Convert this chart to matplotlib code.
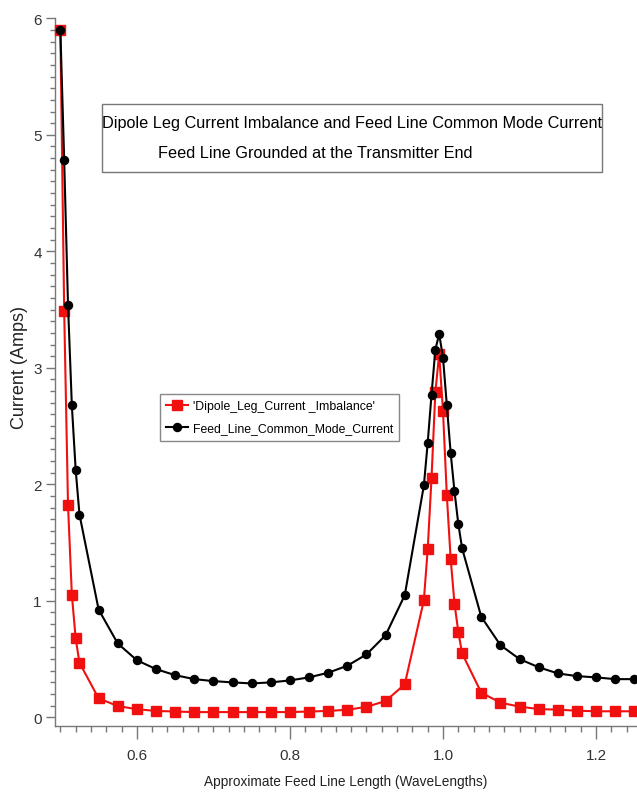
import numpy as np
import matplotlib
matplotlib.use('Agg')
import matplotlib.pyplot as plt
from matplotlib.patches import Rectangle
from matplotlib.ticker import MultipleLocator

# feed line length (wavelengths)
feedLength = [0.5, 0.505, 0.51, 0.515, 0.52, 0.525,
              0.55, 0.575, 0.6, 0.625, 0.65, 0.675, 0.7, 0.725, 0.75, 0.775, 0.8,
              0.825, 0.85, 0.875, 0.9, 0.925, 0.95,
              0.975, 0.98, 0.985, 0.99, 0.995, 1.0, 1.005, 1.01, 1.015, 1.02, 1.025,
              1.05, 1.075, 1.1, 1.125, 1.15, 1.175, 1.2, 1.225, 1.25]

# dipole leg current imbalance (amps)
legImbalance = [5.9, 3.49, 1.825, 1.054, 0.677, 0.468,
                0.163, 0.097, 0.07, 0.055, 0.05, 0.045, 0.045, 0.045, 0.045, 0.045, 0.045,
                0.05, 0.055, 0.065, 0.09, 0.14, 0.283,
                1.005, 1.442, 2.054, 2.79, 3.12, 2.628, 1.905, 1.362, 0.977, 0.734, 0.548,
                0.212, 0.126, 0.092, 0.071, 0.066, 0.057, 0.052, 0.052, 0.052]

# feed line common mode current (amps)
commonMode = [5.9, 4.78, 3.54, 2.68, 2.125, 1.74,
              0.925, 0.634, 0.49, 0.414, 0.362, 0.328, 0.311, 0.30, 0.291, 0.30, 0.317,
              0.343, 0.383, 0.443, 0.54, 0.705, 1.048,
              1.99, 2.356, 2.77, 3.156, 3.29, 3.087, 2.68, 2.27, 1.94, 1.66, 1.45,
              0.863, 0.62, 0.5, 0.43, 0.377, 0.354, 0.343, 0.328, 0.328]

seriesNames = ["'Dipole_Leg_Current _Imbalance'", 'Feed_Line_Common_Mode_Current']
xTicks = [0.6, 0.8, 1.0, 1.2]
xTickLabels = ['0.6', '0.8', '1.0', '1.2']
yTicks = [0, 1, 2, 3, 4, 5, 6]

plt.rcParams['font.family'] = ['Liberation Sans', 'DejaVu Sans']

fig = plt.figure(figsize=(6.37, 8.03), dpi=100)
ax = fig.add_axes([55/637, 1 - 726.5/803, 1 - 55/637, (726.5 - 19.3)/803])

ax.plot(feedLength, legImbalance, color='#f01010', lw=1.5, marker='s', ms=6.5,
        label=seriesNames[0], zorder=3, clip_on=False)
ax.plot(feedLength, commonMode, color='black', lw=1.5, marker='o', ms=5.8,
        label=seriesNames[1], zorder=4, clip_on=False)

ax.set_xlim(0.493, 1.2535)
ax.set_ylim(-0.07, 6.0)

ax.xaxis.set_minor_locator(MultipleLocator(0.02))
ax.yaxis.set_minor_locator(MultipleLocator(0.1))
ax.set_xticks(xTicks)
ax.set_xticklabels(xTickLabels)
ax.set_yticks(yTicks)

for s in ['top', 'right']:
    ax.spines[s].set_visible(False)
for s in ['left', 'bottom']:
    ax.spines[s].set_color('#777777')
    ax.spines[s].set_linewidth(1.0)

ax.tick_params(axis='x', which='major', length=9, width=1, color='#777777', pad=7,
               labelsize=11, labelcolor='#333333')
ax.tick_params(axis='x', which='minor', length=4.5, width=1, color='#777777')
ax.tick_params(axis='y', which='major', length=6.5, width=1, color='#777777', pad=3,
               labelsize=11, labelcolor='#333333')
ax.tick_params(axis='y', which='minor', length=3.6, width=1, color='#777777')

ax.set_xlabel('Approximate Feed Line Length (WaveLengths)', fontsize=9.8, color='#222222')
ax.xaxis.set_label_coords(0.5, -0.068)
ax.set_ylabel('Current (Amps)', fontsize=13, color='#222222')
ax.yaxis.set_label_coords(-0.046, 0.507)

leg = ax.legend(loc='upper left', bbox_to_anchor=(160/637, 1 - 395/803),
                bbox_transform=fig.transFigure, fancybox=False, framealpha=1,
                edgecolor='#888888', handlelength=1.8, handletextpad=0.4,
                borderpad=0.5, labelspacing=0.85, borderaxespad=0,
                prop={'size': 8.8})
leg.get_frame().set_linewidth(1.0)

# title box
fig.patches.append(Rectangle((102/637, 1 - 173/803), 500/637, 68/803,
                             transform=fig.transFigure, fill=False,
                             edgecolor='#777777', lw=1.0))
fig.text(352/637, 1 - 124/803, 'Dipole Leg Current Imbalance and Feed Line Common Mode Current',
         ha='center', va='center', fontsize=11.7, color='black')
fig.text(158/637, 1 - 153/803, 'Feed Line Grounded at the Transmitter End',
         ha='left', va='center', fontsize=11.7, color='black')

fig.savefig('out.png', dpi=100)
